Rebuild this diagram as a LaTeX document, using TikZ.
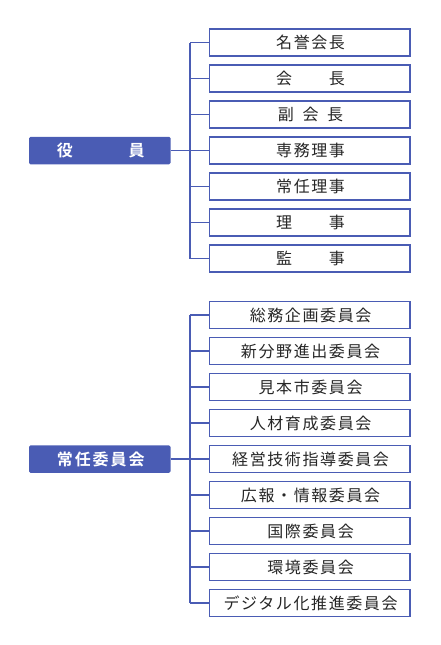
\documentclass[tikz,border=0pt]{standalone}
\usepackage{fontspec}
\newfontfamily\jpfont[LetterSpace=10]{Noto Sans CJK JP}
\newfontfamily\jpbold[LetterSpace=12]{Noto Sans CJK JP Bold}
\definecolor{orgblue}{HTML}{4A5CB4}
\begin{document}
\begin{tikzpicture}[x=1pt,y=-1pt,
  item/.style={draw=orgblue,line width=1.1pt,fill=white,minimum width=200.5pt,minimum height=27pt,inner sep=0pt,font=\fontsize{16}{16}\jpfont,text=black!85},
  head/.style={fill=orgblue,rounded corners=1.5pt,minimum width=141.5pt,minimum height=27.5pt,inner sep=0pt,font=\fontsize{16}{16}\jpbold,text=white},
  conn/.style={draw=orgblue,line width=1.2pt}]
\useasboundingbox (0,0) rectangle (440,645);
% group 1
\coordinate (b1t) at (190,42.5);
\coordinate (b1b) at (190,258.5);
\draw[conn] (b1t) -- (b1b);
\foreach \t [count=\i from 0] in {名誉会長,会　　長,副\hspace{8.6pt}会\hspace{8.6pt}長,専務理事,常任理事,理　　事,監　　事}{
  \node[item] (ra\i) at (309.75,42.5+36*\i) {\hspace*{1.6pt}\t};
  \draw[conn] (ra\i.west) -- (ra\i.west -| b1t);
}
\node[head] (la) at (99.75,150.5) {\hspace*{1.9pt}役　　　員};
\draw[conn] (la.east) -- (ra3.west);
% group 2
\coordinate (b2t) at (190,315);
\coordinate (b2b) at (190,603);
\draw[conn] (b2t) -- (b2b);
\foreach \t [count=\i from 0] in {総務企画委員会,新分野進出委員会,見本市委員会,人材育成委員会,経営技術指導委員会,広報・情報委員会,国際委員会,環境委員会,デジタル化推進委員会}{
  \node[item] (rb\i) at (309.75,315+36*\i) {\hspace*{1.6pt}\t};
  \draw[conn] (rb\i.west) -- (rb\i.west -| b2t);
}
\node[head] (lb) at (99.75,459) {\hspace*{1.9pt}常任委員会};
\draw[conn] (lb.east) -- (rb4.west);
\end{tikzpicture}
\end{document}
